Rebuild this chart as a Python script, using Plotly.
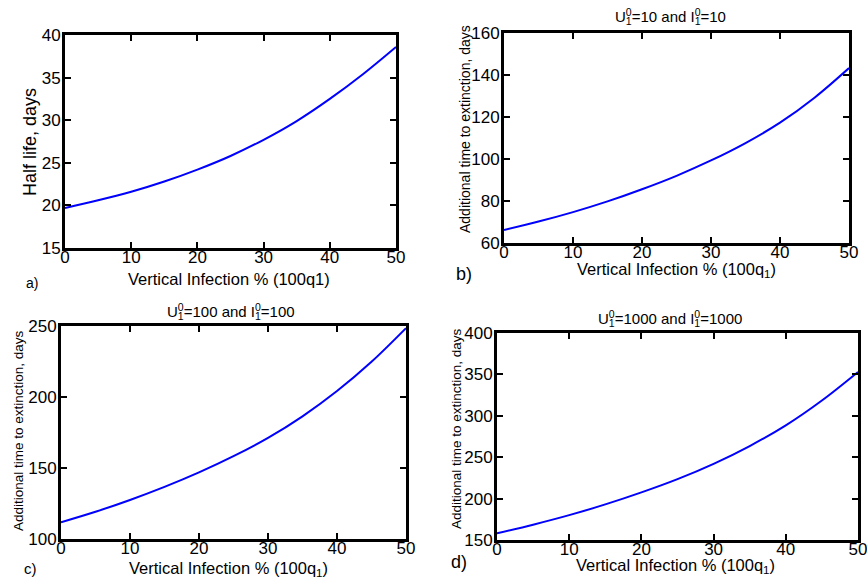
import plotly.graph_objects as go

# x values: vertical infection % (100 q1)
x_pct = [0, 5, 10, 15, 20, 25, 30, 35, 40, 45, 50]

# a) half life, days
half_life = [19.7, 20.6, 21.6, 22.8, 24.2, 25.8, 27.7, 29.9, 32.5, 35.4, 38.6]
# b) U=10, I=10 : additional time to extinction, days
ext_10 = [66.2, 70.2, 74.7, 79.8, 85.6, 92.0, 99.3, 107.6, 117.3, 129.2, 143.3]
# c) U=100, I=100
ext_100 = [111.8, 119.2, 127.5, 136.7, 146.9, 158.3, 171.2, 186.4, 204.2, 224.8, 248.5]
# d) U=1000, I=1000
ext_1000 = [158.0, 168.5, 180.0, 193.0, 207.5, 223.5, 242.0, 263.5, 288.5, 318.5, 353.0]

x_ticks = [0, 10, 20, 30, 40, 50]
ticks_a = [15, 20, 25, 30, 35, 40]
ticks_b = [60, 80, 100, 120, 140, 160]
ticks_c = [100, 150, 200, 250]
ticks_d = [150, 200, 250, 300, 350, 400]

FONT = "Liberation Sans, Arial, sans-serif"
W, H = 867, 585
CLR = "rgba(0,0,0,0)"

# panel boxes in pixels: (left, right, top, bottom)
boxes = {
    "a": (65, 396, 35, 248),
    "b": (504, 849, 33, 243),
    "c": (61, 406, 326, 539),
    "d": (497, 858, 333, 540),
}

def xdom(b):
    return [b[0] / W, b[1] / W]

def ydom(b):
    return [1 - b[3] / H, 1 - b[2] / H]

fig = go.Figure()
series = [("a", half_life), ("b", ext_10), ("c", ext_100), ("d", ext_1000)]
for i, (k, ys) in enumerate(series):
    sfx = "" if i == 0 else str(i + 1)
    fig.add_trace(go.Scatter(x=x_pct, y=ys, mode="lines",
                             line=dict(color="#0000ff", width=2, shape="spline", smoothing=1.0),
                             xaxis="x" + sfx, yaxis="y" + sfx, showlegend=False, hoverinfo="skip"))

fig.update_layout(template="none", width=W, height=H, margin=dict(l=0, r=0, t=0, b=0),
                  plot_bgcolor="white", paper_bgcolor="white", font=dict(family=FONT, color="black"))

yranges = {"a": (15, 40, ticks_a), "b": (60, 160, ticks_b), "c": (100, 250, ticks_c), "d": (150, 400, ticks_d)}

for i, k in enumerate(["a", "b", "c", "d"]):
    sfx = "" if i == 0 else str(i + 1)
    b = boxes[k]
    lo, hi, tv = yranges[k]
    fig.update_layout(**{
        "xaxis" + sfx: dict(domain=xdom(b), range=[0, 50], tickvals=x_ticks, anchor="y" + sfx),
        "yaxis" + sfx: dict(domain=ydom(b), range=[lo, hi], tickvals=tv, anchor="x" + sfx),
    })

fig.update_xaxes(showline=True, linecolor="rgb(0,0,0)", linewidth=3, mirror="allticks", ticks="inside",
                 ticklen=6, tickcolor="rgb(0,0,0)", tickwidth=2, showgrid=False, zeroline=False,
                 ticklabelstandoff=-8, ticklabeloverflow="allow",
                 tickfont=dict(family=FONT, size=17, color="black"))
fig.update_yaxes(showline=True, linecolor="rgb(0,0,0)", linewidth=3, mirror="allticks", ticks="inside",
                 ticklen=6, tickcolor="rgb(0,0,0)", tickwidth=2, showgrid=False, zeroline=False,
                 ticklabelstandoff=-2, ticklabeloverflow="allow",
                 tickfont=dict(family=FONT, size=17, color="black"))

def ann(text, x, y, size, angle=0, xanchor="center"):
    fig.add_annotation(text=text, x=x / W, y=1 - y / H, xref="paper", yref="paper", showarrow=False,
                       textangle=angle, xanchor=xanchor, yanchor="middle",
                       font=dict(family=FONT, size=size, color="black"))

# axis titles
ann("Vertical Infection % (100q1)", 229, 279, 16.5)
ann("Vertical Infection % (100q<sub>1</sub>)", 676, 270, 16.5)
ann("Vertical Infection % (100q<sub>1</sub>)", 229, 569, 16.5)
ann("Vertical Infection % (100q<sub>1</sub>)", 675, 566, 16.5)
ann("Half life, days", 30, 142, 18, angle=-90)
ann("Additional time to extinction, days", 465, 129, 14, angle=-90)
ann("Additional time to extinction, days", 18, 431, 13.5, angle=-90)
ann("Additional time to extinction, days", 456, 428, 13.5, angle=-90)

# panel letters
ann("a)", 32, 283, 14)
ann("b)", 464, 274, 18)
ann("c)", 30, 568, 15)
ann("d)", 459, 562, 18)

# panel titles with stacked super/subscripts (two overlaid layers)
def stacked_title(val, xleft, y):
    t = lambda s: "<span style='color:%s'>%s</span>" % (CLR, s)
    top = "U<sup>0</sup>=%s and I<sup>0</sup>=%s<sub>%s</sub>" % (val, val, t("1"))
    bot = t("U") + "<sub>1</sub>" + t("=%s and I" % val) + "<sub>1</sub>" + t("=%s" % val) + "<sup>%s</sup>" % t("0")
    ann(top, xleft, y, 15, xanchor="left")
    ann(bot, xleft, y, 15, xanchor="left")

stacked_title("10", 613, 16)
stacked_title("100", 165, 311)
stacked_title("1000", 596, 318)

fig.write_html("out.html", config={"staticPlot": True})
